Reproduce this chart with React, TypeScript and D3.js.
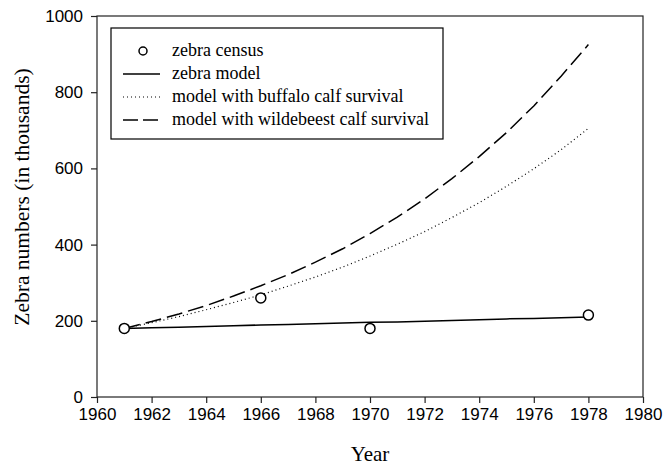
import React, { useEffect, useRef } from 'react';
import * as d3 from 'd3';

const years = [1961, 1962, 1963, 1964, 1965, 1966, 1967, 1968, 1969, 1970, 1971, 1972, 1973, 1974, 1975, 1976, 1977, 1978];
const zebraModel = [180, 182, 183, 185, 187, 189, 190, 192, 194, 196, 197, 199, 201, 203, 205, 206, 208, 210];
const buffaloModel = [180, 195, 211, 229, 248, 268, 291, 315, 341, 370, 401, 434, 471, 510, 553, 599, 649, 705];
const wildebeestModel = [180, 198, 218, 240, 265, 292, 321, 354, 389, 429, 472, 520, 573, 631, 694, 764, 842, 925];

const censusYears = [1961, 1966, 1970, 1978];
const censusValues = [180, 260, 180, 215];

const xTicks = d3.range(1960, 1981, 2);
const yTicks = [0, 200, 400, 600, 800, 1000];

const legendItems = [
  { label: 'zebra census', type: 'point' },
  { label: 'zebra model', type: 'solid' },
  { label: 'model with buffalo calf survival', type: 'dotted' },
  { label: 'model with wildebeest calf survival', type: 'dashed' },
];

const dashFor: Record<string, string | null> = { solid: null, dotted: '1,3', dashed: '16,6' };
const serif = '"Liberation Serif", "Times New Roman", serif';
const sans = '"Liberation Sans", Arial, sans-serif';

const App = () => {
  const svgRef = useRef<SVGSVGElement>(null);

  useEffect(() => {
    const svg = d3.select(svgRef.current);
    svg.selectAll('*').remove();

    const margin = { top: 16, right: 21, bottom: 71, left: 97 };
    const W = 664, H = 468;
    const width = W - margin.left - margin.right;
    const height = H - margin.top - margin.bottom;

    const x = d3.scaleLinear().domain([1960, 1980]).range([0, width]);
    const y = d3.scaleLinear().domain([0, 1000]).range([height, 0]);

    const g = svg.append('g').attr('transform', `translate(${margin.left},${margin.top})`);

    // frame
    g.append('rect').attr('width', width).attr('height', height)
      .attr('fill', 'none').attr('stroke', '#222').attr('stroke-width', 1.2);

    const xAxis = g.append('g').attr('transform', `translate(0,${height})`)
      .call(d3.axisBottom(x).tickValues(xTicks).tickFormat(d3.format('d')).tickSize(6).tickPadding(5));
    const yAxis = g.append('g')
      .call(d3.axisLeft(y).tickValues(yTicks).tickFormat(d3.format('d')).tickSize(6).tickPadding(8));
    [xAxis, yAxis].forEach(a => {
      a.select('.domain').remove();
      a.selectAll('line').attr('stroke', '#222').attr('stroke-width', 1.2);
      a.selectAll('text').attr('font-family', sans).attr('font-size', 17).attr('fill', '#000');
    });

    const line = d3.line<number>().x((d, i) => x(years[i])).y(d => y(d));
    const series = [
      { data: zebraModel, type: 'solid' },
      { data: buffaloModel, type: 'dotted' },
      { data: wildebeestModel, type: 'dashed' },
    ];
    series.forEach(s => {
      g.append('path').datum(s.data).attr('d', line)
        .attr('fill', 'none').attr('stroke', '#000')
        .attr('stroke-width', s.type === 'dotted' ? 1.2 : 1.5)
        .attr('stroke-dasharray', dashFor[s.type]);
    });

    g.selectAll('circle.census').data(censusValues).enter().append('circle')
      .attr('class', 'census')
      .attr('cx', (d, i) => x(censusYears[i]))
      .attr('cy', d => y(d))
      .attr('r', 5)
      .attr('fill', 'white').attr('stroke', '#000').attr('stroke-width', 1.5);

    // legend
    const lg = svg.append('g').attr('transform', 'translate(111,28)');
    lg.append('rect').attr('width', 332).attr('height', 111)
      .attr('fill', 'white').attr('stroke', '#000').attr('stroke-width', 1.2);
    legendItems.forEach((item, i) => {
      const cy = 23 + i * 23;
      if (item.type === 'point') {
        lg.append('circle').attr('cx', 32).attr('cy', cy).attr('r', 4)
          .attr('fill', 'white').attr('stroke', '#000').attr('stroke-width', 1.5);
      } else {
        lg.append('line').attr('x1', 12).attr('x2', 49).attr('y1', cy).attr('y2', cy)
          .attr('stroke', '#000').attr('stroke-width', item.type === 'dotted' ? 1.2 : 1.5)
          .attr('stroke-dasharray', item.type === 'dashed' ? '15,5' : dashFor[item.type]);
      }
      lg.append('text').attr('x', 61).attr('y', cy + 5)
        .attr('font-family', serif).attr('font-size', 18)
        .text(item.label);
    });

    // axis titles
    svg.append('text').attr('x', margin.left + width / 2).attr('y', 461)
      .attr('text-anchor', 'middle')
      .attr('font-family', serif).attr('font-size', 21)
      .text('Year');
    svg.append('text').attr('transform', `translate(29,197) rotate(-90)`)
      .attr('text-anchor', 'middle')
      .attr('font-family', serif).attr('font-size', 21.5)
      .text('Zebra numbers (in thousands)');
  }, []);

  return (
    <svg ref={svgRef} width={664} height={468} style={{ position: 'absolute', left: 0, top: 0, background: 'white' }} />
  );
};

export default App;
